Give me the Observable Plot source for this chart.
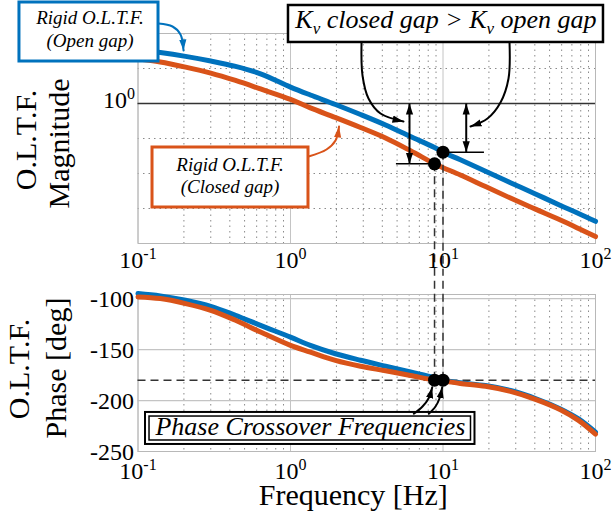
<!DOCTYPE html>
<html><head><meta charset="utf-8">
<script src="https://cdn.jsdelivr.net/npm/d3@7"></script>
<script src="https://cdn.jsdelivr.net/npm/@observablehq/plot@0.6"></script>
<style>body{margin:0;background:#fff}#chart{width:615px}#chart svg{display:block}</style>
</head><body><div id="chart"></div>
<script>
// ---------- data ----------
const freqHz      = [0.1, 0.14, 0.205, 0.3, 0.436, 0.636, 1, 1.35, 1.97, 2.88, 4.2, 6.12, 8.8, 10, 13, 19, 27.7, 40.4, 58.9, 77.4, 100];
const magOpen     = [2.41, 2.31, 2.17, 2.01, 1.84, 1.63, 1.31, 1.15, 0.984, 0.834, 0.702, 0.581, 0.485, 0.449, 0.396, 0.328, 0.272, 0.226, 0.187, 0.164, 0.144];
const magClosed   = [2.08, 1.98, 1.82, 1.65, 1.46, 1.27, 1.07, 0.93, 0.794, 0.674, 0.567, 0.46, 0.371, 0.348, 0.3085, 0.255, 0.211, 0.176, 0.147, 0.128, 0.112];
const phaseOpen   = [-95.1, -97.4, -101.7, -107.6, -116.4, -126.3, -137.8, -145.9, -154.1, -160.5, -166.3, -172, -177.6, -180, -182.6, -185.3, -190.2, -198, -208.2, -218, -231];
const phaseClosed = [-98.4, -100, -104.9, -111.5, -121.3, -132.8, -145.9, -152.5, -160.6, -166.4, -170.8, -175.4, -180, -180.8, -183.2, -186, -191, -198.8, -209, -219.5, -233];

const crossFreq   = [8.8, 10];          // closed gap, open gap
const crossMag    = [0.371, 0.449];
const crossPhase  = [-180, -180];

const freqTicks       = [0.1, 1, 10, 100];
const freqTickLabels  = ["10^{-1}", "10^{0}", "10^{1}", "10^{2}"];
const magTicks        = [1];
const magTickLabels   = ["10^{0}"];
const phaseTicks      = [-100, -150, -200, -250];
const phaseTickLabels = ["-100", "-150", "-200", "-250"];

// ---------- styles ----------
const BLUE = "#0072BD", ORANGE = "#D95319", FONT = "'Liberation Serif', 'Times New Roman', serif";
const minorFreq = [0.1, 1, 10].flatMap(d => [2,3,4,5,6,7,8,9].map(k => k * d));
const magMinor = [0.25, -0.25, -0.5, -0.75].map(e => Math.pow(10, e));
const NS = "http://www.w3.org/2000/svg";

function headMarker(color) {
  const m = document.createElementNS(NS, "marker");
  m.setAttribute("viewBox", "-11 -5 11 10");
  m.setAttribute("markerWidth", 11); m.setAttribute("markerHeight", 10);
  m.setAttribute("markerUnits", "userSpaceOnUse");
  m.setAttribute("refX", 0); m.setAttribute("refY", 0);
  m.setAttribute("orient", "auto-start-reverse");
  const p = document.createElementNS(NS, "path");
  p.setAttribute("d", "M-11,-3.6L0,0L-11,3.6Z");
  p.setAttribute("fill", color); p.setAttribute("stroke", "none");
  m.appendChild(p);
  return m;
}

function richText(svg) {
  svg.querySelectorAll("text").forEach(t => {
    const s = t.textContent;
    if (!/[\^_]\{/.test(s)) return;
    const parts = s.split(/([\^_]\{[^}]*\})/).filter(p => p.length);
    while (t.firstChild) t.removeChild(t.firstChild);
    let shift = 0;
    for (const p of parts) {
      const ts = document.createElementNS(NS, "tspan");
      const m = p.match(/^([\^_])\{([^}]*)\}$/);
      let target = 0, txt = p, size = null;
      if (m) { target = m[1] === "^" ? -9 : 6; txt = m[2]; size = m[1] === "^" ? "16px" : "17px"; }
      if (target - shift !== 0) ts.setAttribute("dy", target - shift);
      shift = target;
      if (size) ts.setAttribute("font-size", size);
      ts.textContent = txt;
      t.appendChild(ts);
    }
  });
}

const series = (ys) => freqHz.map((f, i) => ({f, v: ys[i]}));
const crossTop = crossFreq.map((f, i) => ({f, m: crossMag[i]}));
const crossBot = crossFreq.map((f, i) => ({f, p: crossPhase[i]}));

// annotation geometry in data units (frequency, magnitude / phase)
const arrowsTop = [
  {id: "open", c: BLUE, pts: [[0.1363, 3.727], [0.1684, 3.548], [0.19, 3.111], [0.1988, 2.391]]},
  {id: "closed", c: ORANGE, pts: [[1.312, 0.418], [1.722, 0.469], [1.973, 0.544], [2.08, 0.685]]},
  {id: "kvL", c: "black", pts: [[2.922, 2.728], [2.966, 1.585], [3.247, 1.086], [3.893, 0.8483], [5.508, 0.7438]]},
  {id: "kvR", c: "black", pts: [[27.3, 2.728], [26.89, 1.509], [23.82, 1.0166], [19.58, 0.7813], [15.15, 0.685]]}
];
const arrowsBot = [
  {id: "a", pts: [[6.434, -213], [7.338, -205.9], [8.035, -198], [8.5, -186.9]]},
  {id: "b", pts: [[8.07, -213], [8.93, -205.9], [9.48, -198], [9.88, -186.9]]}
];
const gainArrows = [{f: 6.03, y1: 1, y2: 0.371}, {f: 14.2, y1: 1, y2: 0.449}];
const gainRules  = [{y: 0.371, x1: 4.95, x2: 8.8}, {y: 0.449, x1: 10, x2: 18.7}];

function build(marker) {
  const top = Plot.plot({
    width: 615, height: 272,
    marginLeft: 137.5, marginRight: 20, marginTop: 33, marginBottom: 29,
    x: {type: "log", domain: [0.1, 100], axis: null},
    y: {type: "log", domain: [0.1, Math.pow(10, 0.5)], axis: null},
    style: {fontFamily: FONT, fontSize: "24px", background: "white", color: "black"},
    marks: [
      Plot.ruleX(minorFreq, {stroke: "#8a8a8a", strokeDasharray: "1.5,4", strokeWidth: 1}),
      Plot.ruleY(magMinor, {stroke: "#8a8a8a", strokeDasharray: "1.5,4", strokeWidth: 1}),
      Plot.ruleX(freqTicks, {stroke: "#c4c4c4", strokeWidth: 1}),
      Plot.frame({stroke: "#b8b8b8", strokeWidth: 1}),
      Plot.ruleY(magTicks, {stroke: "#333", strokeWidth: 1.5}),
      Plot.line(series(magOpen), {x: "f", y: "v", stroke: BLUE, strokeWidth: 5, curve: "catmull-rom"}),
      Plot.line(series(magClosed), {x: "f", y: "v", stroke: ORANGE, strokeWidth: 5, curve: "catmull-rom"}),
      Plot.ruleX(crossTop, {x: "f", y1: "m", y2: 0.0621, stroke: "#333", strokeWidth: 1.5, strokeDasharray: "8,5"}),
      Plot.ruleY(gainRules, {y: "y", x1: "x1", x2: "x2", stroke: "black", strokeWidth: 1.5}),
      Plot.link(gainArrows, {x1: "f", x2: "f", y1: "y1", y2: "y2", stroke: "black", strokeWidth: 2, markerStart: marker, markerEnd: marker}),
      Plot.dot(crossTop, {x: "f", y: "m", r: 6.5, fill: "black"}),
      // axes text
      Plot.text(freqTicks, {x: d => d, text: (d, i) => freqTickLabels[i], frameAnchor: "bottom", dy: 24, lineAnchor: "bottom", fontSize: 24}),
      Plot.text(magTicks, {y: d => d, text: (d, i) => magTickLabels[i], frameAnchor: "left", dx: -3, dy: -3, textAnchor: "end", lineAnchor: "middle", fontSize: 24}),
      Plot.text(["O.L.T.F."], {text: d => d, frameAnchor: "left", rotate: -90, dx: -102.5, dy: 1.5, textAnchor: "middle", lineAnchor: "bottom", fontSize: 30}),
      Plot.text(["Magnitude"], {text: d => d, frameAnchor: "left", rotate: -90, dx: -69.5, dy: 5, textAnchor: "middle", lineAnchor: "bottom", fontSize: 30}),
      // boxes
      Plot.rect([{x1: 0.0167, x2: 0.1363, y1: 5.265, y2: 1.995}], {x1: "x1", x2: "x2", y1: "y1", y2: "y2", fill: "white", stroke: BLUE, strokeWidth: 3}),
      Plot.rect([{x1: 0.1245, x2: 1.312, y1: 0.485, y2: 0.1808}], {x1: "x1", x2: "x2", y1: "y1", y2: "y2", fill: "white", stroke: ORANGE, strokeWidth: 3}),
      Plot.rect([{x1: 0.970, x2: 112.8, y1: 5.012, y2: 2.728}], {x1: "x1", x2: "x2", y1: "y1", y2: "y2", fill: "white", stroke: "black", strokeWidth: 2.5}),
      Plot.text([{f: 0.0484, v: 3.698, t: "Rigid O.L.T.F."}, {f: 0.0484, v: 2.553, t: "(Open gap)"}],
        {x: "f", y: "v", text: "t", fontSize: 19, fontStyle: "italic", lineAnchor: "bottom"}),
      Plot.text([{f: 0.4013, v: 0.3322, t: "Rigid O.L.T.F."}, {f: 0.4013, v: 0.2276, t: "(Closed gap)"}],
        {x: "f", y: "v", text: "t", fontSize: 19, fontStyle: "italic", lineAnchor: "bottom"}),
      Plot.text([{f: 10.46, v: 3.49, t: "K_{v} closed gap > K_{v} open gap"}],
        {x: "f", y: "v", text: "t", fontSize: 26, fontStyle: "italic", lineAnchor: "bottom"}),
      // curved arrows
      ...arrowsTop.map(a => Plot.line(a.pts, {x: d => d[0], y: d => d[1], stroke: a.c, strokeWidth: 2, curve: "catmull-rom", markerEnd: marker}))
    ]
  });

  const bottom = Plot.plot({
    width: 615, height: 244,
    marginLeft: 137.5, marginRight: 20, marginTop: 22, marginBottom: 65,
    x: {type: "log", domain: [0.1, 100], axis: null},
    y: {domain: [-250, -96], axis: null},
    style: {fontFamily: FONT, fontSize: "24px", background: "white", color: "black"},
    marks: [
      Plot.ruleX(minorFreq, {stroke: "#8a8a8a", strokeDasharray: "1.5,4", strokeWidth: 1}),
      Plot.ruleX(freqTicks, {stroke: "#c4c4c4", strokeWidth: 1}),
      Plot.ruleY(phaseTicks, {stroke: "#c4c4c4", strokeWidth: 1.2}),
      Plot.frame({stroke: "#b8b8b8", strokeWidth: 1}),
      Plot.ruleY([-180], {stroke: "#333", strokeWidth: 1.5, strokeDasharray: "8,5"}),
      Plot.line(series(phaseOpen), {x: "f", y: "v", stroke: BLUE, strokeWidth: 5, curve: "catmull-rom"}),
      Plot.line(series(phaseClosed), {x: "f", y: "v", stroke: ORANGE, strokeWidth: 5, curve: "catmull-rom"}),
      Plot.ruleX(crossBot, {x: "f", y1: "p", y2: -74.4, stroke: "#333", strokeWidth: 1.5, strokeDasharray: "8,5"}),
      Plot.dot(crossBot, {x: "f", y: "p", r: 6.5, fill: "black"}),
      Plot.rect([{x1: 0.112, x2: 16.21, y1: -211.7, y2: -243.1}], {x1: "x1", x2: "x2", y1: "y1", y2: "y2", fill: "white", stroke: "black", strokeWidth: 2}),
      Plot.rect([{x1: 0.119, x2: 15.26, y1: -215.7, y2: -239.2}], {x1: "x1", x2: "x2", y1: "y1", y2: "y2", fill: "none", stroke: "black", strokeWidth: 1.5}),
      Plot.text([{f: 1.352, v: -234.3, t: "Phase Crossover Frequencies"}], {x: "f", y: "v", text: "t", fontSize: 26, fontStyle: "italic", lineAnchor: "bottom"}),
      ...arrowsBot.map(a => Plot.line(a.pts, {x: d => d[0], y: d => d[1], stroke: "black", strokeWidth: 2, curve: "catmull-rom", markerEnd: marker})),
      Plot.text(freqTicks, {x: d => d, text: (d, i) => freqTickLabels[i], frameAnchor: "bottom", dy: 27, lineAnchor: "bottom", fontSize: 24}),
      Plot.text(phaseTicks, {y: d => d, text: (d, i) => phaseTickLabels[i], frameAnchor: "left", dx: -4, dy: 1, textAnchor: "end", lineAnchor: "middle", fontSize: 24}),
      Plot.text(["Frequency [Hz]"], {text: d => d, frameAnchor: "bottom", dx: -13.5, dy: 53, lineAnchor: "bottom", fontSize: 30}),
      Plot.text(["O.L.T.F."], {text: d => d, frameAnchor: "left", rotate: -90, dx: -109.5, dy: -4, textAnchor: "middle", lineAnchor: "bottom", fontSize: 30}),
      Plot.text(["Phase [deg]"], {text: d => d, frameAnchor: "left", rotate: -90, dx: -72.5, dy: -5, textAnchor: "middle", lineAnchor: "bottom", fontSize: 30})
    ]
  });
  return [top, bottom];
}

let charts;
try { charts = build(headMarker); } catch (e) { charts = build("arrow"); }
const host = document.getElementById("chart");
for (const c of charts) { richText(c); host.appendChild(c); }
</script>
</body></html>
